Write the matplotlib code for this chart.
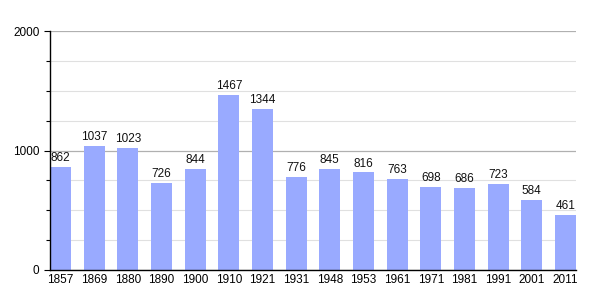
import matplotlib
matplotlib.use("Agg")
import matplotlib.pyplot as plt
from matplotlib.ticker import MultipleLocator

plt.rcParams['font.family'] = ['Liberation Sans', 'DejaVu Sans']

years = ["1857", "1869", "1880", "1890", "1900", "1910", "1921", "1931", "1948",
         "1953", "1961", "1971", "1981", "1991", "2001", "2011"]
population = [862, 1037, 1023, 726, 844, 1467, 1344, 776, 845, 816, 763, 698, 686, 723, 584, 461]

fig = plt.figure(figsize=(6.05, 3.0), dpi=100)
ax = fig.add_axes([50/605, 0.1, 526/605, 239/300])

x = list(range(len(years)))
w = 0.625
ax.bar(x, population, width=w, color="#99aaff", zorder=2)
for xi, v in zip(x, population):
    ax.text(xi, v + 25, str(v), ha="center", va="bottom", fontsize=8.5, color="#111111")

ax.set_xlim(-w/2, len(years) - 1 + w/2)
ax.set_ylim(0, 2000)
ax.set_xticks(x)
ax.set_xticklabels(years, fontsize=8.5)
ax.yaxis.set_major_locator(MultipleLocator(1000))
ax.yaxis.set_minor_locator(MultipleLocator(250))
ax.tick_params(axis="y", which="major", labelsize=8.5, length=4, width=0.8)
ax.tick_params(axis="y", which="minor", length=3, width=0.8)
ax.tick_params(axis="x", length=0, pad=3)
ax.grid(axis="y", which="major", color="#b0b0b0", linewidth=0.9, zorder=0)
ax.grid(axis="y", which="minor", color="#e0e0e0", linewidth=0.8, zorder=0)
for s in ["top", "right"]:
    ax.spines[s].set_visible(False)
ax.spines["left"].set_linewidth(1.0)
ax.spines["bottom"].set_linewidth(1.0)

fig.savefig("out.png", dpi=100)
